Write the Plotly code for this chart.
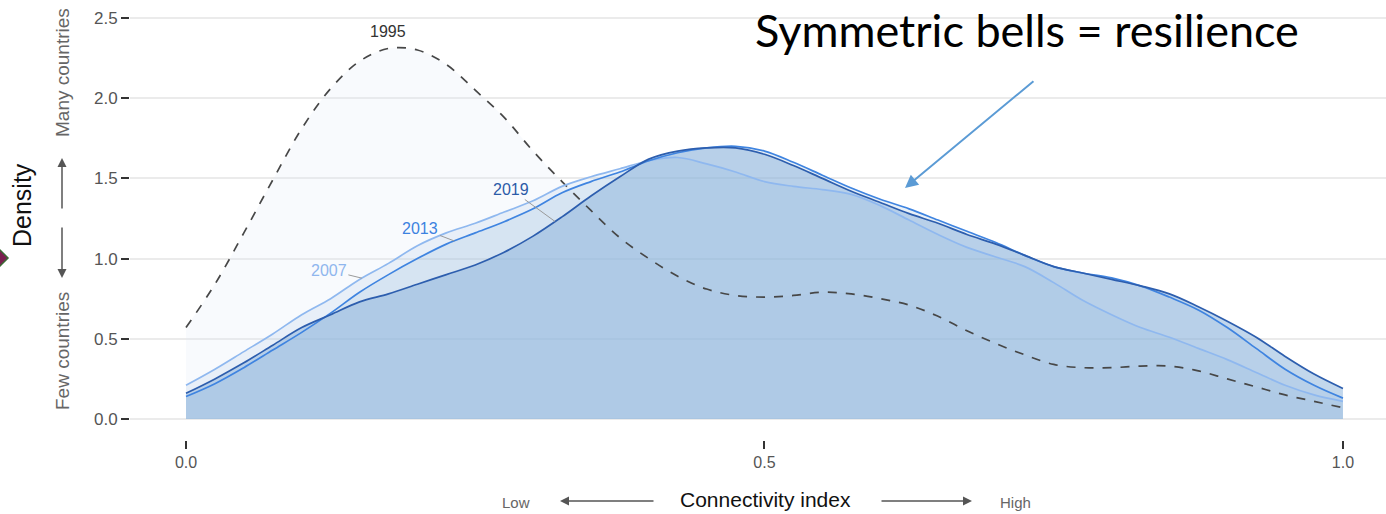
import numpy as np
import plotly.graph_objects as go

# ---------------- data ----------------
x_index = [0.0, 0.025, 0.05, 0.075, 0.10, 0.125, 0.15, 0.175, 0.20, 0.225,
           0.25, 0.275, 0.30, 0.325, 0.35, 0.375, 0.40, 0.425, 0.45, 0.475,
           0.50, 0.525, 0.55, 0.575, 0.60, 0.625, 0.65, 0.675, 0.70, 0.725,
           0.75, 0.775, 0.80, 0.825, 0.85, 0.875, 0.90, 0.925, 0.95, 0.975, 1.0]

density_1995 = [0.57, 0.84, 1.16, 1.49, 1.81, 2.06, 2.23, 2.31, 2.30, 2.21,
                2.05, 1.88, 1.67, 1.48, 1.30, 1.13, 1.00, 0.89, 0.81, 0.77,
                0.76, 0.77, 0.79, 0.78, 0.75, 0.71, 0.64, 0.55, 0.47, 0.40,
                0.34, 0.32, 0.32, 0.33, 0.33, 0.30, 0.25, 0.20, 0.15, 0.11, 0.07]

density_2007 = [0.21, 0.31, 0.42, 0.53, 0.65, 0.75, 0.87, 0.97, 1.08, 1.16,
                1.22, 1.29, 1.36, 1.45, 1.51, 1.56, 1.61, 1.63, 1.59, 1.54,
                1.48, 1.45, 1.43, 1.40, 1.33, 1.24, 1.15, 1.07, 1.01, 0.95,
                0.85, 0.74, 0.65, 0.57, 0.51, 0.44, 0.37, 0.29, 0.21, 0.15, 0.11]

density_2013 = [0.14, 0.22, 0.32, 0.43, 0.54, 0.66, 0.79, 0.90, 1.00, 1.09,
                1.16, 1.23, 1.31, 1.41, 1.48, 1.54, 1.61, 1.66, 1.69, 1.70,
                1.67, 1.60, 1.52, 1.44, 1.37, 1.31, 1.24, 1.17, 1.10, 1.02,
                0.95, 0.91, 0.88, 0.83, 0.76, 0.68, 0.57, 0.44, 0.31, 0.21, 0.13]

density_2019 = [0.16, 0.25, 0.35, 0.46, 0.57, 0.65, 0.73, 0.78, 0.84, 0.90,
                0.96, 1.04, 1.14, 1.26, 1.39, 1.51, 1.62, 1.67, 1.69, 1.69,
                1.65, 1.58, 1.50, 1.42, 1.35, 1.28, 1.22, 1.15, 1.09, 1.02,
                0.95, 0.91, 0.87, 0.83, 0.78, 0.70, 0.61, 0.51, 0.39, 0.28, 0.19]

years = ["1995", "2007", "2013", "2019"]
x_ticks = [0.0, 0.5, 1.0]
x_tick_labels = ["0.0", "0.5", "1.0"]
y_ticks = [0.0, 0.5, 1.0, 1.5, 2.0, 2.5]
y_tick_labels = ["0.0", "0.5", "1.0", "1.5", "2.0", "2.5"]

series = {
    "1995": density_1995,
    "2007": density_2007,
    "2013": density_2013,
    "2019": density_2019,
}

# ---------------- styles ----------------
fill_colors = {
    "1995": "rgba(225,230,248,0.22)",
    "2007": "rgba(140,180,220,0.15)",
    "2013": "rgba(140,180,220,0.19)",
    "2019": "rgba(140,180,220,0.53)",
}
line_colors = {
    "1995": "#474747",
    "2007": "#8fb8ef",
    "2013": "#3f84e0",
    "2019": "#2d5eae",
}
text_colors = {
    "1995": "#333333",
    "2007": "#8fb6ee",
    "2013": "#3c82e0",
    "2019": "#2c5ba8",
}

FONT = "Liberation Sans, Arial, sans-serif"

fig = go.Figure()

# fills first
for yr in years:
    fig.add_trace(go.Scatter(
        x=x_index, y=series[yr], mode="lines",
        line=dict(width=0, shape="spline", smoothing=1.0),
        fill="tozeroy", fillcolor=fill_colors[yr],
        hoverinfo="skip", showlegend=False))

# lines on top
for yr in years:
    fig.add_trace(go.Scatter(
        x=x_index, y=series[yr], mode="lines", name=yr,
        line=dict(color=line_colors[yr], width=1.7,
                  dash="dash" if yr == "1995" else "solid",
                  shape="spline", smoothing=1.0),
        showlegend=False))

# ---------------- axes ----------------
plot_left, plot_right = 130, 1386
fig.update_layout(
    width=1386, height=514,
    margin=dict(l=130, r=0, t=0, b=74),
    paper_bgcolor="white", plot_bgcolor="white",
    font=dict(family=FONT, color="#555555"),
)
fig.update_xaxes(
    range=[-0.0484, 1.0372], tickvals=x_ticks, ticktext=x_tick_labels,
    showgrid=False, zeroline=False, showline=False,
    ticks="outside", ticklen=8, tickwidth=2, tickcolor="#333333",
    tickfont=dict(size=16, color="#555555", family=FONT),
)
fig.update_yaxes(
    range=[-0.131, 2.612], tickvals=y_ticks, ticktext=y_tick_labels,
    showgrid=True, gridcolor="#ebebeb", gridwidth=1.5, zeroline=False,
    showline=False, ticks="outside", ticklen=8, tickwidth=2,
    tickcolor="#333333", tickfont=dict(size=17, color="#555555", family=FONT),
)

def px_x(px):
    return (px - plot_left) / (plot_right - plot_left)

def px_y(py):
    return (440 - py) / 440

ann = []

def text_ann(px, py, text, size, color, angle=0, family=FONT):
    return dict(x=px_x(px), y=px_y(py), xref="paper", yref="paper",
                text=text, textangle=angle, showarrow=False,
                xanchor="center", yanchor="middle",
                font=dict(size=size, color=color, family=family))

# year labels
peak_i = int(np.argmax(density_1995))
ann.append(dict(x=x_index[peak_i], y=density_1995[peak_i], xref="x", yref="y",
                text="1995", showarrow=False, yshift=17,
                xanchor="center", yanchor="middle",
                font=dict(size=16, color=text_colors["1995"], family=FONT)))

label_spec = [("2007", 0.152, -33, -8), ("2013", 0.232, -34, -13), ("2019", 0.319, -44, -32)]
for yr, xv, ax, ay in label_spec:
    yv = float(np.interp(xv, x_index, series[yr]))
    ann.append(dict(x=xv, y=yv, xref="x", yref="y", text=yr,
                    showarrow=True, arrowhead=0, arrowwidth=1, arrowcolor="#9a9a9a",
                    ax=ax, ay=ay, standoff=0,
                    font=dict(size=16, color=text_colors[yr], family=FONT)))

# headline and callout arrow
ann.append(text_ann(1027, 30, "Symmetric bells = resilience", 45, "#000000",
                    family="Lato, sans-serif"))
ann.append(dict(x=(905 - 186) / 1157, y=(419 - 188) / 160.4, xref="x", yref="y",
                text="", showarrow=True, arrowhead=2, arrowsize=1.3, arrowwidth=2,
                arrowcolor="#5b9bd5", ax=130, ay=-108))

# y-axis titles
ann.append(text_ann(22, 205, "Density", 25, "#111111", angle=-90))
ann.append(text_ann(62, 73, "Many countries", 19, "#666666", angle=-90))
ann.append(text_ann(62, 351, "Few countries", 19, "#666666", angle=-90))
ann.append(dict(x=px_x(62), y=px_y(158), xref="paper", yref="paper", text="",
                showarrow=True, arrowhead=2, arrowsize=1.2, arrowwidth=1.5,
                arrowcolor="#555555", ax=0, ay=52))
ann.append(dict(x=px_x(62), y=px_y(278), xref="paper", yref="paper", text="",
                showarrow=True, arrowhead=2, arrowsize=1.2, arrowwidth=1.5,
                arrowcolor="#555555", ax=0, ay=-52))

# x-axis titles
ann.append(text_ann(765, 499, "Connectivity index", 21, "#111111"))
ann.append(text_ann(516, 502, "Low", 15, "#666666"))
ann.append(text_ann(1015, 502, "High", 15, "#666666"))
ann.append(dict(x=px_x(560), y=px_y(501), xref="paper", yref="paper", text="",
                showarrow=True, arrowhead=2, arrowsize=1.2, arrowwidth=1.5,
                arrowcolor="#555555", ax=95, ay=0))
ann.append(dict(x=px_x(972), y=px_y(501), xref="paper", yref="paper", text="",
                showarrow=True, arrowhead=2, arrowsize=1.2, arrowwidth=1.5,
                arrowcolor="#555555", ax=-92, ay=0))

fig.update_layout(annotations=ann)

# small diamond marker fragment at the left edge
d = [(-12, 258), (-2, 248), (8, 258), (-2, 268)]
path = "M " + " L ".join(f"{px_x(a):.5f},{px_y(b):.5f}" for a, b in d) + " Z"
fig.add_shape(type="path", path=path, xref="paper", yref="paper",
              fillcolor="#7a2050", line=dict(color="#3a6b35", width=1.5))

fig.write_html("out.html", config={"displayModeBar": False},
               post_script="document.body.style.margin='0px';document.body.style.overflow='hidden';")
